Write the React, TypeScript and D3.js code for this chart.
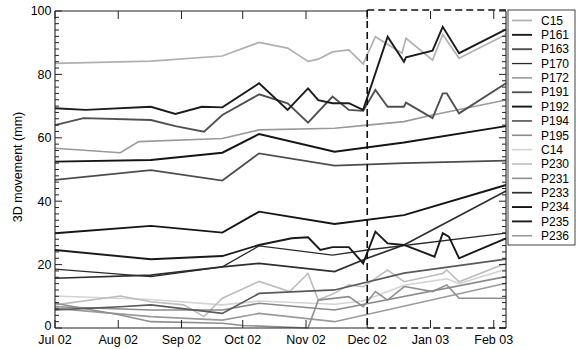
import React from "react";
import * as d3 from "d3";

type Pt = [string, number];

// Survey time series, 3D displacement in mm
const C15: Pt[] = [
  ["2002-07-01", 83.5], ["2002-08-17", 84.2], ["2002-09-21", 85.8], ["2002-10-09", 90.1],
  ["2002-10-23", 88.3], ["2002-11-02", 84.1], ["2002-11-07", 84.8], ["2002-11-14", 87.1],
  ["2002-11-22", 87.7], ["2002-11-29", 83.3], ["2002-12-05", 91.9], ["2002-12-18", 86.7],
  ["2002-12-20", 91.4], ["2003-01-02", 84.5], ["2003-01-07", 92.6], ["2003-01-15", 85.1],
  ["2003-02-07", 92.6],
];
const P161: Pt[] = [
  ["2002-07-01", 69.3], ["2002-07-16", 68.8], ["2002-08-17", 69.8], ["2002-08-29", 67.5],
  ["2002-09-11", 69.8], ["2002-09-21", 69.6], ["2002-10-09", 77.2], ["2002-10-23", 68.8],
  ["2002-11-02", 75.6], ["2002-11-07", 71.9], ["2002-11-14", 70.9], ["2002-11-22", 70.9],
  ["2002-11-29", 68.8], ["2002-12-11", 91.9], ["2002-12-19", 84.0], ["2002-12-20", 85.4],
  ["2003-01-02", 87.5], ["2003-01-07", 95.0], ["2003-01-15", 86.7], ["2003-02-07", 94.2],
];
const P163: Pt[] = [
  ["2002-07-01", 64.0], ["2002-07-15", 66.2], ["2002-08-17", 65.6], ["2002-08-29", 63.7],
  ["2002-09-12", 61.9], ["2002-09-21", 67.2], ["2002-10-09", 73.7], ["2002-10-23", 70.9],
  ["2002-11-02", 64.8], ["2002-11-14", 73.0], ["2002-11-22", 68.8], ["2002-11-29", 68.5],
  ["2002-12-05", 75.1], ["2002-12-11", 69.8], ["2002-12-19", 69.8], ["2002-12-20", 71.1],
  ["2003-01-02", 66.2], ["2003-01-07", 74.0], ["2003-01-09", 74.0], ["2003-01-15", 67.7],
  ["2003-02-07", 77.2],
];
const P170: Pt[] = [
  ["2002-07-01", 18.6], ["2002-08-17", 16.2], ["2002-09-21", 19.3], ["2002-10-09", 25.9],
  ["2002-11-14", 23.0], ["2002-12-01", 24.6], ["2003-02-07", 29.9],
];
const P172: Pt[] = [
  ["2002-07-01", 56.7], ["2002-08-02", 55.3], ["2002-08-11", 58.8], ["2002-09-21", 59.8],
  ["2002-10-09", 62.5], ["2002-11-15", 63.0], ["2002-12-01", 64.0], ["2002-12-19", 65.1],
  ["2003-01-02", 67.2], ["2003-02-07", 71.9],
];
const P191: Pt[] = [
  ["2002-07-01", 46.7], ["2002-08-17", 49.8], ["2002-09-21", 46.5], ["2002-10-09", 55.1],
  ["2002-11-15", 51.2], ["2002-12-19", 52.0], ["2003-02-07", 52.8],
];
const P192: Pt[] = [
  ["2002-07-01", 52.5], ["2002-08-17", 53.0], ["2002-09-21", 55.3], ["2002-10-09", 61.2],
  ["2002-11-15", 55.6], ["2002-12-19", 58.5], ["2003-02-07", 63.7],
];
const P194: Pt[] = [
  ["2002-07-01", 5.7], ["2002-08-02", 6.7], ["2002-08-17", 7.3], ["2002-09-21", 4.6],
  ["2002-10-09", 10.9], ["2002-11-15", 12.0], ["2002-12-19", 17.3], ["2003-02-07", 21.7],
];
const P195: Pt[] = [
  ["2002-07-01", 6.7], ["2002-08-17", 5.7], ["2002-09-21", 5.7], ["2002-10-09", 7.8],
  ["2002-11-15", 5.7], ["2003-02-07", 16.2],
];
const C14: Pt[] = [
  ["2002-07-01", 10.1], ["2002-08-17", 9.0], ["2002-09-21", 7.3], ["2002-10-09", 8.5],
  ["2002-11-15", 7.5], ["2002-11-29", 8.5], ["2002-12-19", 13.5], ["2003-01-09", 15.5],
  ["2003-01-15", 14.0], ["2003-02-07", 18.5],
];
const P230: Pt[] = [
  ["2002-07-01", 7.3], ["2002-08-02", 10.1], ["2002-08-17", 8.3], ["2002-09-02", 7.3],
  ["2002-09-12", 3.6], ["2002-09-21", 9.4], ["2002-10-09", 14.7], ["2002-10-24", 11.5],
  ["2002-11-02", 17.2], ["2002-11-07", 8.8], ["2002-11-15", 11.0], ["2002-11-22", 13.6],
  ["2002-11-29", 13.0], ["2002-12-11", 18.3], ["2002-12-19", 14.6], ["2003-01-07", 17.2],
  ["2003-01-09", 18.3], ["2003-01-15", 14.6], ["2003-02-07", 20.4],
];
const P231: Pt[] = [
  ["2002-07-01", 7.8], ["2002-08-02", 4.1], ["2002-08-17", 2.0], ["2002-09-21", 1.5],
  ["2002-10-01", 0.8], ["2002-11-02", 0.0], ["2002-11-07", 8.8], ["2002-11-22", 9.9],
  ["2002-11-29", 6.7], ["2002-12-05", 11.5], ["2002-12-11", 8.8], ["2002-12-19", 13.0],
  ["2002-12-20", 13.0], ["2003-01-02", 11.5], ["2003-01-09", 13.6], ["2003-01-15", 9.4],
  ["2003-02-07", 9.4],
];
const P233: Pt[] = [
  ["2002-07-01", 15.7], ["2002-08-17", 16.7], ["2002-09-21", 19.3], ["2002-10-09", 20.4],
  ["2002-11-15", 17.8], ["2002-12-01", 22.0], ["2002-12-19", 26.2], ["2003-02-07", 43.2],
];
const P234: Pt[] = [
  ["2002-07-01", 29.9], ["2002-08-17", 32.2], ["2002-09-21", 30.1], ["2002-10-09", 36.7],
  ["2002-11-15", 32.8], ["2002-12-19", 35.6], ["2003-02-07", 45.1],
];
const P235: Pt[] = [
  ["2002-07-01", 24.6], ["2002-08-17", 21.7], ["2002-09-21", 22.7], ["2002-10-09", 26.2],
  ["2002-10-25", 28.3], ["2002-11-02", 28.6], ["2002-11-08", 24.6], ["2002-11-14", 25.5],
  ["2002-11-22", 25.5], ["2002-11-29", 20.4], ["2002-12-05", 30.4], ["2002-12-11", 26.7],
  ["2002-12-19", 26.2], ["2003-01-03", 22.5], ["2003-01-07", 29.9], ["2003-01-10", 28.8],
  ["2003-01-15", 22.0], ["2003-02-07", 28.3],
];
const P236: Pt[] = [
  ["2002-07-01", 6.2], ["2002-08-17", 3.6], ["2002-09-21", 2.5], ["2002-10-09", 4.6],
  ["2002-11-15", 2.0], ["2003-02-07", 14.1],
];

const legendNames = [
  "C15", "P161", "P163", "P170", "P172", "P191", "P192", "P194",
  "P195", "C14", "P230", "P231", "P233", "P234", "P235", "P236",
];
const seriesData: Record<string, Pt[]> = {
  C15, P161, P163, P170, P172, P191, P192, P194, P195, C14, P230, P231, P233, P234, P235, P236,
};

const monthTicks = [
  "2002-07-01", "2002-08-01", "2002-09-01", "2002-10-01",
  "2002-11-01", "2002-12-01", "2003-01-01", "2003-02-01",
];
const monthLabels = ["Jul 02", "Aug 02", "Sep 02", "Oct 02", "Nov 02", "Dec 02", "Jan 03", "Feb 03"];
const yTicks = [0, 20, 40, 60, 80, 100];
const xStart = "2002-07-01";
const xEnd = "2003-02-07";
const windowStart = "2002-12-01";

const lineStyle: Record<string, { color: string; width: number }> = {
  C15: { color: "#b0b0b0", width: 1.7 },
  P161: { color: "#1c1c1c", width: 1.9 },
  P163: { color: "#505050", width: 1.9 },
  P170: { color: "#2a2a2a", width: 1.3 },
  P172: { color: "#9a9a9a", width: 1.6 },
  P191: { color: "#4d4d4d", width: 1.8 },
  P192: { color: "#151515", width: 1.9 },
  P194: { color: "#5a5a5a", width: 1.7 },
  P195: { color: "#8a8a8a", width: 1.6 },
  C14: { color: "#d4d4d4", width: 1.6 },
  P230: { color: "#bdbdbd", width: 1.6 },
  P231: { color: "#8f8f8f", width: 1.6 },
  P233: { color: "#2e2e2e", width: 1.7 },
  P234: { color: "#151515", width: 1.9 },
  P235: { color: "#1a1a1a", width: 1.9 },
  P236: { color: "#9a9a9a", width: 1.6 },
};

const FONT = "'Liberation Sans', Arial, Helvetica, sans-serif";
const parse = d3.timeParse("%Y-%m-%d") as (s: string) => Date;

export default function App() {
  const W = 576;
  const H = 349;
  const left = 55, right = 506, top = 11, bottom = 328;

  const x = d3.scaleTime().domain([parse(xStart), parse(xEnd)]).range([left, right]);
  const y = d3.scaleLinear().domain([0, 100]).range([bottom, top]);
  const line = d3
    .line<Pt>()
    .x((d) => x(parse(d[0])))
    .y((d) => y(d[1]));

  // lighter traces first so the dark ones sit on top
  const lum = (c: string) => parseInt(c.slice(1, 3), 16);
  const drawOrder = [...legendNames].sort((a, b) => lum(lineStyle[b].color) - lum(lineStyle[a].color));

  const minorY = d3.range(0, 101, 2).filter((v) => v % 20 !== 0);
  const xWin = x(parse(windowStart));

  const legX = 508, legY = 10, legW = 67, legH = 235;
  const legRow = (i: number) => 20.5 + i * 14.35;

  return (
    <svg
      width={W}
      height={H}
      viewBox={`0 0 ${W} ${H}`}
      style={{ position: "absolute", left: 0, top: 0, display: "block", background: "#fff" }}
      fontFamily={FONT}
    >
      <rect x={0} y={0} width={W} height={H} fill="#fff" />

      {drawOrder.map((name) => (
        <path
          key={name}
          d={line(seriesData[name]) || ""}
          fill="none"
          stroke={lineStyle[name].color}
          strokeWidth={lineStyle[name].width}
          strokeLinejoin="miter"
        />
      ))}

      {/* axes frame: solid left/right, solid top/bottom up to the window start */}
      <g stroke="#222" strokeWidth={1.1} fill="none">
        <line x1={left} y1={top} x2={left} y2={bottom} />
        <line x1={right} y1={top} x2={right} y2={bottom} />
        <line x1={left} y1={top} x2={xWin} y2={top} />
        <line x1={left} y1={bottom} x2={xWin} y2={bottom} />
      </g>

      {/* y ticks on both sides, month ticks top and bottom */}
      <g stroke="#222" strokeWidth={1}>
        {yTicks.map((v) => (
          <g key={"yt" + v}>
            <line x1={left} x2={left + 7} y1={y(v)} y2={y(v)} />
            <line x1={right} x2={right - 7} y1={y(v)} y2={y(v)} />
          </g>
        ))}
        {minorY.map((v) => (
          <g key={"ym" + v}>
            <line x1={left} x2={left + 4} y1={y(v)} y2={y(v)} />
            <line x1={right} x2={right - 4} y1={y(v)} y2={y(v)} />
          </g>
        ))}
        {monthTicks.map((m) => {
          const px = x(parse(m));
          return (
            <g key={"xt" + m}>
              <line x1={px} x2={px} y1={bottom} y2={bottom - 8} />
              <line x1={px} x2={px} y1={top} y2={top + 8} />
            </g>
          );
        })}
      </g>

      {/* dashed window from December onward */}
      <g stroke="#111" strokeWidth={1.6} strokeDasharray="7,4" fill="none">
        <line x1={xWin} y1={top - 1} x2={xWin} y2={bottom} />
        <line x1={xWin} y1={top - 1} x2={right} y2={top - 1} />
        <line x1={xWin} y1={bottom} x2={right} y2={bottom} />
      </g>

      {/* tick labels */}
      <g fontSize={12.5} fill="#000">
        {yTicks.map((v) => (
          <text key={"yl" + v} x={51.5} y={y(v) - (v === 0 ? 2 : 0)} dy="0.35em" textAnchor="end">
            {v}
          </text>
        ))}
        {monthTicks.map((m, i) => (
          <text key={"xl" + m} x={x(parse(m))} y={344} textAnchor="middle">
            {monthLabels[i]}
          </text>
        ))}
      </g>

      <text
        transform={`translate(22,167) rotate(-90)`}
        textAnchor="middle"
        fontSize={12.5}
        fill="#000"
      >
        3D movement (mm)
      </text>

      {/* legend */}
      <rect x={legX} y={legY} width={legW} height={legH} fill="#fff" stroke="#444" strokeWidth={1} />
      {legendNames.map((name, i) => (
        <g key={"lg" + name}>
          <line
            x1={512}
            x2={532}
            y1={legRow(i)}
            y2={legRow(i)}
            stroke={lineStyle[name].color}
            strokeWidth={lineStyle[name].width}
          />
          <text x={541} y={legRow(i)} dy="0.35em" fontSize={12} fill="#000">
            {name}
          </text>
        </g>
      ))}
    </svg>
  );
}
